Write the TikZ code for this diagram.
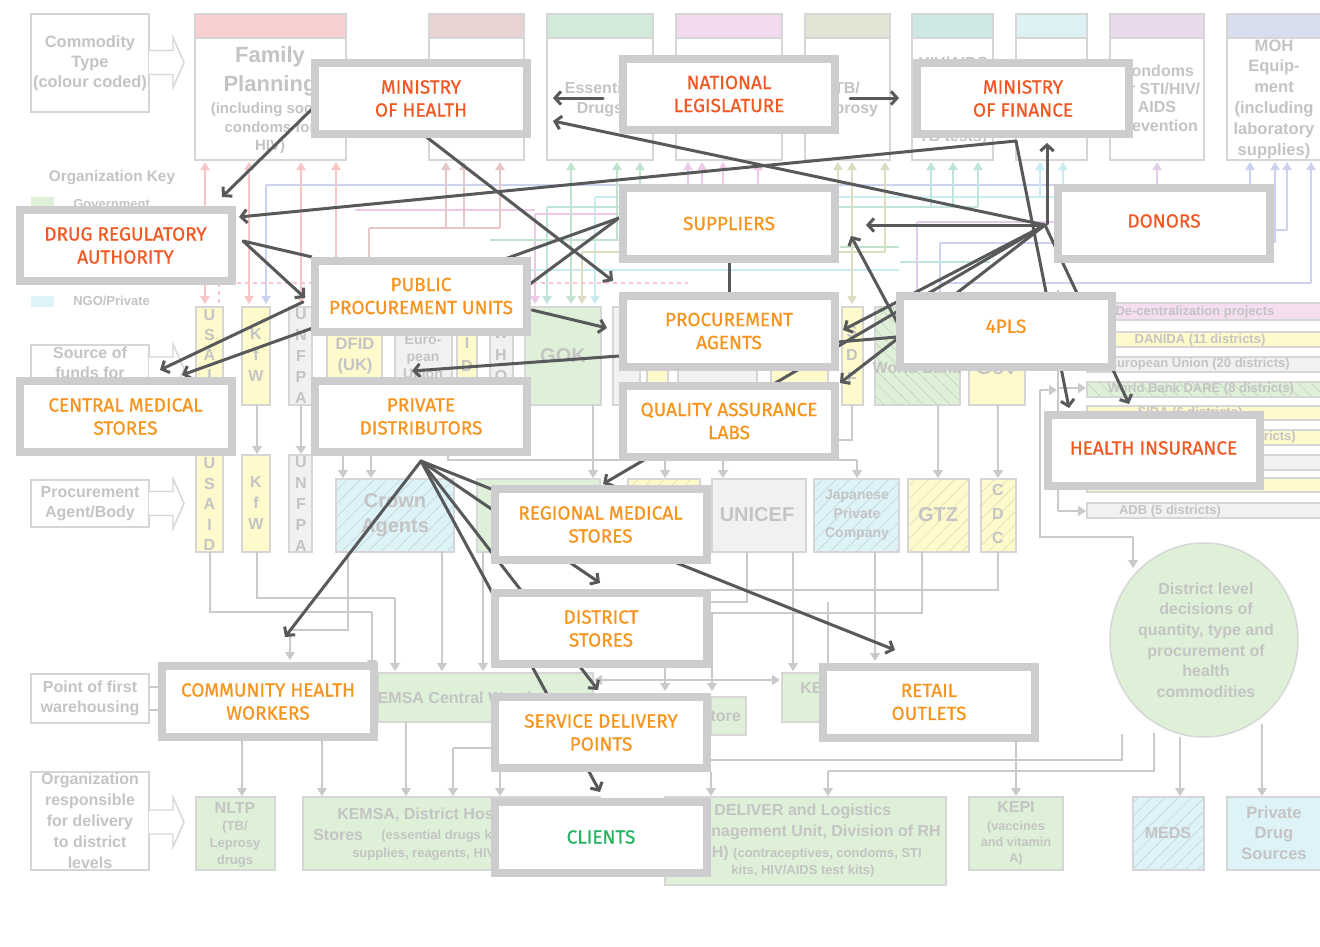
\documentclass[tikz,border=0pt]{standalone}
\usepackage{fontspec}
\setmainfont{Liberation Sans}
\newfontfamily\fira{Fira Sans}[FakeBold=0.7]
\usetikzlibrary{arrows.meta,patterns.meta}
\definecolor{fgb}{RGB}{205,205,207}
\definecolor{fred}{RGB}{241,88,36}
\definecolor{forg}{RGB}{247,148,29}
\definecolor{fgrn}{RGB}{38,180,98}
\definecolor{darr}{RGB}{88,89,91}
\definecolor{bgb}{RGB}{214,214,214}
\definecolor{bgl}{RGB}{202,202,202}
\definecolor{bgtc}{RGB}{196,196,196}
\definecolor{yel}{RGB}{254,250,204}
\definecolor{grn}{RGB}{223,240,216}
\definecolor{cyn}{RGB}{222,243,248}
\definecolor{gry}{RGB}{241,241,241}
\definecolor{pnk}{RGB}{244,222,240}
\definecolor{h1}{RGB}{249,208,208}
\definecolor{h2}{RGB}{232,210,210}
\definecolor{h3}{RGB}{210,234,218}
\definecolor{h4}{RGB}{242,218,238}
\definecolor{h5}{RGB}{228,228,212}
\definecolor{h6}{RGB}{206,232,228}
\definecolor{h7}{RGB}{222,242,246}
\definecolor{h8}{RGB}{234,216,236}
\definecolor{h9}{RGB}{216,222,238}
\definecolor{c1}{RGB}{247,199,199}
\definecolor{c2}{RGB}{230,198,198}
\definecolor{c3}{RGB}{191,227,204}
\definecolor{c4}{RGB}{238,201,231}
\definecolor{c5}{RGB}{220,220,192}
\definecolor{c6}{RGB}{191,227,221}
\definecolor{c7}{RGB}{201,235,242}
\definecolor{c8}{RGB}{227,204,234}
\definecolor{c9}{RGB}{205,211,239}
\tikzset{
 fgbox/.style={draw=fgb, line width=6pt, fill=white, minimum width=159pt, minimum height=53.25pt, align=center, inner sep=0pt, font=\fira\fontsize{14.25}{17.25}\selectfont},
 darrow/.style={draw=darr, line width=2.25pt, line cap=round, -{Straight Barb[length=4.5pt,width=10pt]}},
 dline/.style={draw=darr, line width=2.25pt},
 bgbox/.style={draw=bgb, line width=1.1pt},
 bgln/.style={draw=bgl, line width=1.1pt},
 bgar/.style={bgln, -{Triangle[length=6pt,width=7.5pt]}},
 bt/.style={text=bgtc, inner sep=0pt, align=center, font=\bfseries\fontsize{12}{15}\selectfont},
 bts/.style={bt, font=\bfseries\fontsize{9.75}{12.5}\selectfont},
 cl/.style={draw=#1, line width=1.1pt},
 cu/.style={draw=#1, line width=1.1pt, -{Triangle[length=6pt,width=7pt]}},
 cb/.style={draw=#1, line width=1.1pt, {Triangle[length=6pt,width=7pt]}-{Triangle[length=6pt,width=7pt]}},
}
\newcommand\blkarrow[1]{\draw[bgbox, fill=white, line join=miter] (149,{#1-12}) -- (173,{#1-12}) -- (173,{#1-25}) -- (184,{#1}) -- (173,{#1+25}) -- (173,{#1+12}) -- (149,{#1+12});}
\newcommand\vlet[4]{\foreach \L [count=\i from 0] in {#4} {\node[bt, font=\bfseries\fontsize{12}{12}\selectfont] at (#1,{#2+\i*#3}) {\L};}}
\newcommand\hatchbox[6]{\fill[#5] (#1,#2) rectangle (#3,#4); \fill[pattern={Lines[angle=#6,distance=7pt,line width=0.5pt]}, pattern color=#5!60!black!30!#5] (#1,#2) rectangle (#3,#4); \draw[bgbox] (#1,#2) rectangle (#3,#4);}
\begin{document}
\begin{tikzpicture}[x=0.75pt,y=-0.75pt]
\useasboundingbox (0,0) rectangle (1320,946);
\fill[white] (0,0) rectangle (1320,946);

% ---------------- background: commodity row
\foreach \xa/\xb/\hc in {195/346/h1, 429/524/h2, 547/653/h3, 676/782/h4, 805/890/h5, 912/993/h6, 1016/1087/h7, 1110/1204/h8, 1227/1330/h9} {
  \fill[\hc] (\xa,14) rectangle (\xb,38);
  \draw[bgbox] (\xa,14) rectangle (\xb,160);
  \draw[bgbox] (\xa,38) -- (\xb,38);
}
\draw[bgbox] (31,14) rectangle (149,112);
\node[bt, font=\bfseries\fontsize{12.3}{15}\selectfont] at (90,63) {Commodity\\Type\\(colour coded)};
\blkarrow{62.5}
\node[bt, font=\bfseries\fontsize{16.5}{21.75}\selectfont] at (270,71.5) {Family\\Planning};
\node[bt, font=\bfseries\fontsize{11.25}{13.9}\selectfont] at (270,128.5) {(including social\\condoms for\\HIV)};
\node[bt] at (600,99) {Essential\\Drugs};
\node[bt] at (847,99) {TB/\\Leprosy};
\node[bt] at (953,63) {HIV/AIDS};
\node[bt] at (953,137) {TB tests)};
\node[bt, font=\bfseries\fontsize{12}{13.75}\selectfont] at (1157,99.5) {Condoms\\for STI/HIV/\\AIDS\\prevention};
\node[bt, font=\bfseries\fontsize{12.4}{15.6}\selectfont] at (1274,99) {MOH\\Equip-\\ment\\(including\\laboratory\\supplies)};

% coloured flow lines
\draw[cl=c9] (266,185) -- (1250,185);
\draw[cu=c9] (266,185) -- (266,304);
\draw[cu=c9] (1250,185) -- (1250,162);
\draw[cu=c9] (1275,243) -- (1275,162);
\draw[cl=c9] (1274,230) -- (1287,230);
\draw[cu=c9] (1287,230) -- (1287,162);
\draw[cl=c9] (940,283) -- (1311,283);
\draw[cu=c9] (1311,283) -- (1311,162);
\draw[cl=c9] (940,243) -- (1054,243);
\draw[cl=c9] (940,243) -- (940,304);
\draw[cl=c7] (595,197) -- (1063,197);
\draw[cu=c7] (595,197) -- (595,304);
\draw[cu=c7] (1040,197) -- (1040,162);
\draw[cu=c7] (1063,197) -- (1063,162);
\draw[cl=c7] (380,270) -- (899,270);
\draw[cl=c6] (547,207) -- (978,207);
\draw[cu=c6] (547,207) -- (547,304);
\foreach \x in {931,953,978} \draw[cu=c6] (\x,207) -- (\x,162);
\draw[cl=c6] (900,262) -- (990,262);
\draw[cl=c4] (535,214) -- (758,214);
\draw[cu=c4] (535,214) -- (535,304);
\foreach \x in {688,702,723,758} \draw[cu=c4] (\x,214) -- (\x,162);
\draw[cl=c4] (355,210) -- (535,210);
\draw[cl=c8] (917,222) -- (1157,222);
\draw[cu=c8] (1157,222) -- (1157,162);
\draw[cl=c8] (917,222) -- (917,304);
\draw[cb=c3] (571,304) -- (571,162);
\foreach \x in {617,640} \draw[cu=c3] (\x,240) -- (\x,162);
\draw[cl=c3] (490,240) -- (640,240);
\draw[cl=c3] (840,247) -- (899,247);
\draw[cb=c5] (852,304) -- (852,162);
\foreach \x in {838,885} \draw[cu=c5] (\x,252) -- (\x,162);
\draw[cl=c5] (582,252) -- (885,252);
\draw[cu=c5] (582,252) -- (582,304);
\foreach \x in {446,464,500} \draw[cu=c2] (\x,228) -- (\x,162);
\draw[cl=c2] (369,228) -- (500,228);
\draw[cl=c2] (369,228) -- (369,257);
\foreach \x in {205,249,301} \draw[cb=c1] (\x,304) -- (\x,162);
\draw[cu=c1] (336,257) -- (336,162);
\draw[c1, line width=1.1pt, dashed] (205,283) -- (688,283);
\draw[c1, line width=1.1pt, dashed] (219,283) -- (219,305);

% ---------------- legend
\node[bt, font=\bfseries\fontsize{11.5}{14}\selectfont] at (112,178) {Organization Key};
\fill[grn] (31,197) rectangle (54,209);
\node[bts, anchor=west] at (73,204) {Government};
\fill[cyn] (31,296) rectangle (54,307);
\node[bts, anchor=west] at (73,301) {NGO/Private};
\draw[bgbox] (31,345) rectangle (149,398);
\node[bt] at (90,363) {Source of\\funds for};
\blkarrow{369}
\draw[bgbox] (31,480) rectangle (149,527);
\node[bt] at (90,503.5) {Procurement\\Agent/Body};
\blkarrow{503.5}
\draw[bgbox] (31,674) rectangle (149,723);
\node[bt] at (90,698.5) {Point of first\\warehousing};
\draw[bgln] (149,687) -- (160,687) (149,710) -- (160,710);
\draw[bgbox] (31,772) rectangle (149,870);
\node[bt, font=\bfseries\fontsize{12}{15.75}\selectfont] at (90,821) {Organization\\responsible\\for delivery\\to district\\levels};
\blkarrow{822}

% ---------------- source of funds row
\fill[yel] (196,307) rectangle (223,405); \draw[bgbox] (196,307) rectangle (223,405);
\vlet{209.5}{315}{20}{U,S,A,I,D}
\fill[yel] (196,455) rectangle (223,552); \draw[bgbox] (196,455) rectangle (223,552);
\vlet{209.5}{463}{20.5}{U,S,A,I,D}
\fill[yel] (242,307) rectangle (270,405); \draw[bgbox] (242,307) rectangle (270,405);
\vlet{256}{334}{21}{K,f,W}
\fill[yel] (242,455) rectangle (270,552); \draw[bgbox] (242,455) rectangle (270,552);
\vlet{256}{482}{21}{K,f,W}
\fill[gry] (289,307) rectangle (312,405); \draw[bgbox] (289,307) rectangle (312,405);
\vlet{301}{314}{21}{U,N,F,P,A}
\fill[gry] (289,455) rectangle (312,552); \draw[bgbox] (289,455) rectangle (312,552);
\vlet{301}{462}{21}{U,N,F,P,A}
\draw[bgar] (257,405) -- (257,454);
\draw[bgar] (301,405) -- (301,454);
\fill[yel] (327,320) rectangle (382,390); \draw[bgbox] (327,320) rectangle (382,390);
\node[bt, font=\bfseries\fontsize{12.4}{16}\selectfont] at (355,356) {DFID\\(UK)};
\fill[gry] (395,320) rectangle (452,390); \draw[bgbox] (395,320) rectangle (452,390);
\node[bt, font=\bfseries\fontsize{10.5}{12.8}\selectfont] at (423,357) {Euro-\\pean\\Union};
\fill[yel] (457,320) rectangle (477,400); \draw[bgbox] (457,320) rectangle (477,400);
\vlet{467}{343}{23}{I,D}
\fill[gry] (490,320) rectangle (513,400); \draw[bgbox] (490,320) rectangle (513,400);
\vlet{501}{333}{21.5}{W,H,O}
\fill[grn] (525,307) rectangle (601,405); \draw[bgbox] (525,307) rectangle (601,405);
\node[bt, font=\bfseries\fontsize{15}{18}\selectfont] at (563,356) {GOK};
\fill[gry] (613,307) rectangle (640,405); \draw[bgbox] (613,307) rectangle (640,405);
\fill[yel] (647,320) rectangle (668,405); \draw[bgbox] (647,320) rectangle (668,405);
\fill[gry] (678,320) rectangle (757,405); \draw[bgbox] (678,320) rectangle (757,405);
\fill[yel] (771,320) rectangle (828,405); \draw[bgbox] (771,320) rectangle (828,405);
\fill[yel] (842,307) rectangle (863,405); \draw[bgbox] (842,307) rectangle (863,405);
\vlet{852}{332}{23}{S,D,F}
\hatchbox{875}{307}{960}{405}{grn}{-45}
\node[bt] at (917,368) {World Bank};
\fill[yel] (969,307) rectangle (1025,405); \draw[bgbox] (969,307) rectangle (1025,405);
\node[bt, font=\bfseries\fontsize{15}{18}\selectfont] at (997,368) {GoV};

% ---------------- right district bars
\foreach \ya/\yb/\fc in {303/320/pnk, 332/347/yel, 357/372/gry, 406/420/yel, 430/445/yel, 455/470/gry, 478/492/yel, 503/518/gry} {
  \fill[\fc] (1087,\ya) rectangle (1330,\yb); \draw[bgbox] (1087,\ya) rectangle (1330,\yb);
}
\hatchbox{1087}{382}{1330}{397}{grn}{-45}
\node[bts] at (1195,312) {De-centralization projects};
\node[bts] at (1200,340) {DANIDA (11 districts)};
\node[bts] at (1199,364.5) {European Union (20 districts)};
\node[bts] at (1201,389.5) {World Bank DARE (8 districts)};
\node[bts] at (1190,413) {SIDA (6 districts)};
\node[bts, anchor=east] at (1296,437.5) {districts)};
\node[bts] at (1170,511) {ADB (5 districts)};
\draw[bgln] (1058,290) -- (1058,511);
\draw[bgar] (1058,388) -- (1086,388);
\draw[bgar] (1058,511) -- (1086,511);
\draw[bgln] (1040,390) -- (1040,537) -- (1133,537);
\draw[bgar] (1133,537) -- (1133,568);
\draw[bgar] (1040,390) -- (1057,390);

% circle
\draw[bgbox, fill=grn] (1204,640) ellipse [x radius=94, y radius=97];
\node[bt, font=\bfseries\fontsize{12}{15.5}\selectfont] at (1206,640) {District level\\decisions of\\quantity, type and\\procurement of\\health\\commodities};

% ---------------- procurement agent row
\hatchbox{336}{479}{454}{552}{cyn}{45}
\node[bt, font=\bfseries\fontsize{15}{19}\selectfont] at (395,515) {Crown\\Agents};
\fill[grn] (477,479) rectangle (600,552); \draw[bgbox] (477,479) rectangle (600,552);
\hatchbox{628}{479}{700}{552}{yel}{45}
\fill[gry] (712,479) rectangle (806,552); \draw[bgbox] (712,479) rectangle (806,552);
\node[bt, font=\bfseries\fontsize{15}{18}\selectfont] at (757,515) {UNICEF};
\hatchbox{814}{479}{899}{552}{cyn}{45}
\node[bt, font=\bfseries\fontsize{10.5}{14.25}\selectfont] at (857,515) {Japanese\\Private\\Company};
\hatchbox{908}{479}{969}{552}{yel}{45}
\node[bt, font=\bfseries\fontsize{15}{18}\selectfont] at (938,515) {GTZ};
\hatchbox{981}{479}{1016}{552}{yel}{45}
\vlet{998}{490}{24}{C,D,C}

% grey connectors upper middle
\draw[bgar] (593,405) -- (593,478);
\draw[bgln] (448,456) -- (448,460) -- (857,460);
\foreach \x in {665,723,857} \draw[bgar] (\x,460) -- (\x,478);
\draw[bgar] (343,456) -- (343,478);
\draw[bgar] (371,456) -- (371,478);
\draw[bgar] (938,405) -- (938,478);
\draw[bgar] (998,405) -- (998,478);
\draw[bgln] (852,405) -- (852,440) -- (839,440);

% ---------------- warehousing row
\fill[grn] (378,673) rectangle (593,722); \draw[bgbox] (378,673) rectangle (593,722);
\node[bt, anchor=west] at (366,698) {KEMSA Central Warehouse};
\fill[grn] (711,697) rectangle (746,735); \draw[bgbox] (711,697) rectangle (746,735);
\node[bt, anchor=east] at (741,716) {Store};
\fill[grn] (782,673) rectangle (835,722); \draw[bgbox] (782,673) rectangle (835,722);
\node[bt, anchor=west] at (800,688) {KEMSA};

% grey connectors lower middle
\draw[bgln] (210,552) -- (210,612) -- (372,612);
\draw[bgar] (372,612) -- (372,668);
\draw[bgln] (257,552) -- (257,598) -- (395,598);
\draw[bgar] (395,598) -- (395,671);
\draw[bgln] (348,552) -- (348,630) -- (290,630);
\draw[bgar] (290,630) -- (290,660);
\draw[bgar] (442,552) -- (442,671);
\draw[bgar] (483,552) -- (483,671);
\draw[bgln] (747,552) -- (747,602) -- (711,602);
\draw[bgar] (793,552) -- (793,671);
\draw[bgar] (875,552) -- (875,661);
\draw[bgln] (922,552) -- (922,613) -- (711,613);
\draw[bgln] (998,552) -- (998,590) -- (711,590);
\draw[bgln] (828,602) -- (828,673);
\draw[bgln, {Triangle[length=6pt,width=7.5pt]}-{Triangle[length=6pt,width=7.5pt]}] (594,680) -- (780,680);
\draw[bgar] (665,668) -- (665,691);
\draw[bgar] (712,613) -- (712,691);

% ---------------- bottom row
\fill[grn] (196,797) rectangle (275,870); \draw[bgbox] (196,797) rectangle (275,870);
\node[bt] at (235,808) {NLTP};
\node[bts] at (235,844) {(TB/\\Leprosy\\drugs};
\fill[grn] (303,797) rectangle (600,870); \draw[bgbox] (303,797) rectangle (600,870);
\node[bt, anchor=west] at (337,815) {KEMSA, District Hospital};
\node[bt, anchor=west] at (313,835) {Stores};
\node[bts, anchor=west] at (381,836) {(essential drugs kits,};
\node[bts, anchor=west] at (352,854) {supplies, reagents, HIV/AIDS test kits)};
\fill[grn] (665,797) rectangle (946,885); \draw[bgbox] (665,797) rectangle (946,885);
\node[bt, anchor=west] at (714,811) {DELIVER and Logistics};
\node[bt, anchor=east] at (941,832) {Management Unit, Division of RH};
\node[bts, anchor=east] at (922,853) {\fontsize{12}{15}\selectfont(MOH) \fontsize{9.75}{12}\selectfont(contraceptives, condoms, STI};
\node[bts] at (803,871) {kits, HIV/AIDS test kits)};
\fill[grn] (969,797) rectangle (1063,870); \draw[bgbox] (969,797) rectangle (1063,870);
\node[bt] at (1016,807) {KEPI};
\node[bts, font=\bfseries\fontsize{9.5}{12.2}\selectfont] at (1016,843) {(vaccines\\and vitamin\\A)};
\hatchbox{1133}{797}{1204}{870}{cyn}{45}
\node[bt] at (1168,833) {MEDS};
\fill[cyn] (1227,797) rectangle (1330,870); \draw[bgbox] (1227,797) rectangle (1330,870);
\node[bt, font=\bfseries\fontsize{12.4}{15.6}\selectfont] at (1274,833) {Private\\Drug\\Sources};

\draw[bgar] (242,741) -- (242,796);
\draw[bgar] (322,741) -- (322,796);
\draw[bgar] (406,722) -- (406,796);
\draw[bgln] (491,748) -- (453,748);
\draw[bgar] (453,748) -- (453,796);
\draw[bgar] (500,772) -- (500,796);
\draw[bgar] (711,772) -- (711,796);
\draw[bgln] (711,760) -- (1122,760) -- (1122,734);
\draw[bgln] (1154,733) -- (1154,771) -- (828,771);
\draw[bgar] (828,771) -- (828,796);
\draw[bgar] (1016,741) -- (1016,796);
\draw[bgar] (1180,737) -- (1180,796);
\draw[bgar] (1262,724) -- (1262,796);

% ---------------- dark connectors
\coordinate (donhub) at (1045,225);
\coordinate (mofv) at (1016,141);
\coordinate (pdhub) at (421,461);
\coordinate (supv) at (619,218);
\coordinate (drav) at (243,241);
\draw[darrow] (312,109) -- (222,197);
\draw[darrow] (420,132) -- (613,281);
\draw[darrow] (603,98) -- (553,98);
\draw[darrow] (850,98) -- (899,98);
\draw[darrow] (donhub) -- (553,121);
\draw[darrow] (1047,224) -- (1047,143);
\draw[darrow] (donhub) -- (866,225);
\draw[darrow] (donhub) -- (843,330);
\draw[darrow] (donhub) -- (840,383);
\draw[darrow] (donhub) -- (603,484);
\draw[darrow] (donhub) -- (1129,404);
\draw[darrow] (mofv) -- (239,217);
\draw[darrow] (mofv) -- (1069,408);
\draw[darrow] (897,322) -- (851,236);
\draw[dline] (897,337) -- (838,342);
\draw[darrow] (supv) -- (182,375);
\draw[dline] (supv) -- (530,284);
\draw[dline] (729,262) -- (729,293);
\draw[darrow] (drav) -- (305,298);
\draw[dline] (drav) -- (312,257);
\draw[darrow] (303,302) -- (160,370);
\draw[darrow] (532,310) -- (607,328);
\draw[darrow] (619,356) -- (412,371);
\draw[darrow] (pdhub) -- (285,637);
\draw[darrow] (pdhub) -- (895,650);
\draw[darrow] (pdhub) -- (600,583);
\draw[darrow] (pdhub) -- (598,690);
\draw[darrow] (pdhub) -- (600,792);

% ---------------- foreground boxes
\node[fgbox,text=fred] (moh) at (421,98.5) {MINISTRY\\OF HEALTH};
\node[fgbox,text=fred] (nl) at (729,94) {NATIONAL\\LEGISLATURE};
\node[fgbox,text=fred] (mof) at (1023,98.5) {MINISTRY\\OF FINANCE};
\node[fgbox,text=fred] (dra) at (125.5,245.5) {DRUG REGULATORY\\AUTHORITY};
\node[fgbox,text=forg] (sup) at (729,223.5) {SUPPLIERS};
\node[fgbox,text=fred] (don) at (1164,223.5) {\raisebox{4pt}{DONORS}};
\node[fgbox,text=forg] (ppu) at (421,296) {PUBLIC\\PROCUREMENT UNITS};
\node[fgbox,text=forg] (pa) at (729,331) {PROCUREMENT\\AGENTS};
\node[fgbox,text=forg] (fpl) at (1006,331.5) {\raisebox{8pt}{4PLS}};
\node[fgbox,text=forg] (cms) at (125.5,416.5) {CENTRAL MEDICAL\\STORES};
\node[fgbox,text=forg] (pd) at (421,416.5) {PRIVATE\\DISTRIBUTORS};
\node[fgbox,text=forg] (qa) at (729,421) {QUALITY ASSURANCE\\LABS};
\node[fgbox,text=forg] (rms) at (600.5,524.5) {REGIONAL MEDICAL\\STORES};
\node[fgbox,text=fred] (hi) at (1153.5,450.5) {\raisebox{4pt}{HEALTH INSURANCE}};
\node[fgbox,text=forg] (ds) at (601,628.5) {DISTRICT\\STORES};
\node[fgbox,text=forg] (sdp) at (601,732.5) {SERVICE DELIVERY\\POINTS};
\node[fgbox,text=fgrn] (cli) at (601,837) {CLIENTS};
\node[fgbox,text=forg] (chw) at (268,701.5) {COMMUNITY HEALTH\\WORKERS};
\node[fgbox,text=forg] (ret) at (929,702) {RETAIL\\OUTLETS};
\end{tikzpicture}
\end{document}
